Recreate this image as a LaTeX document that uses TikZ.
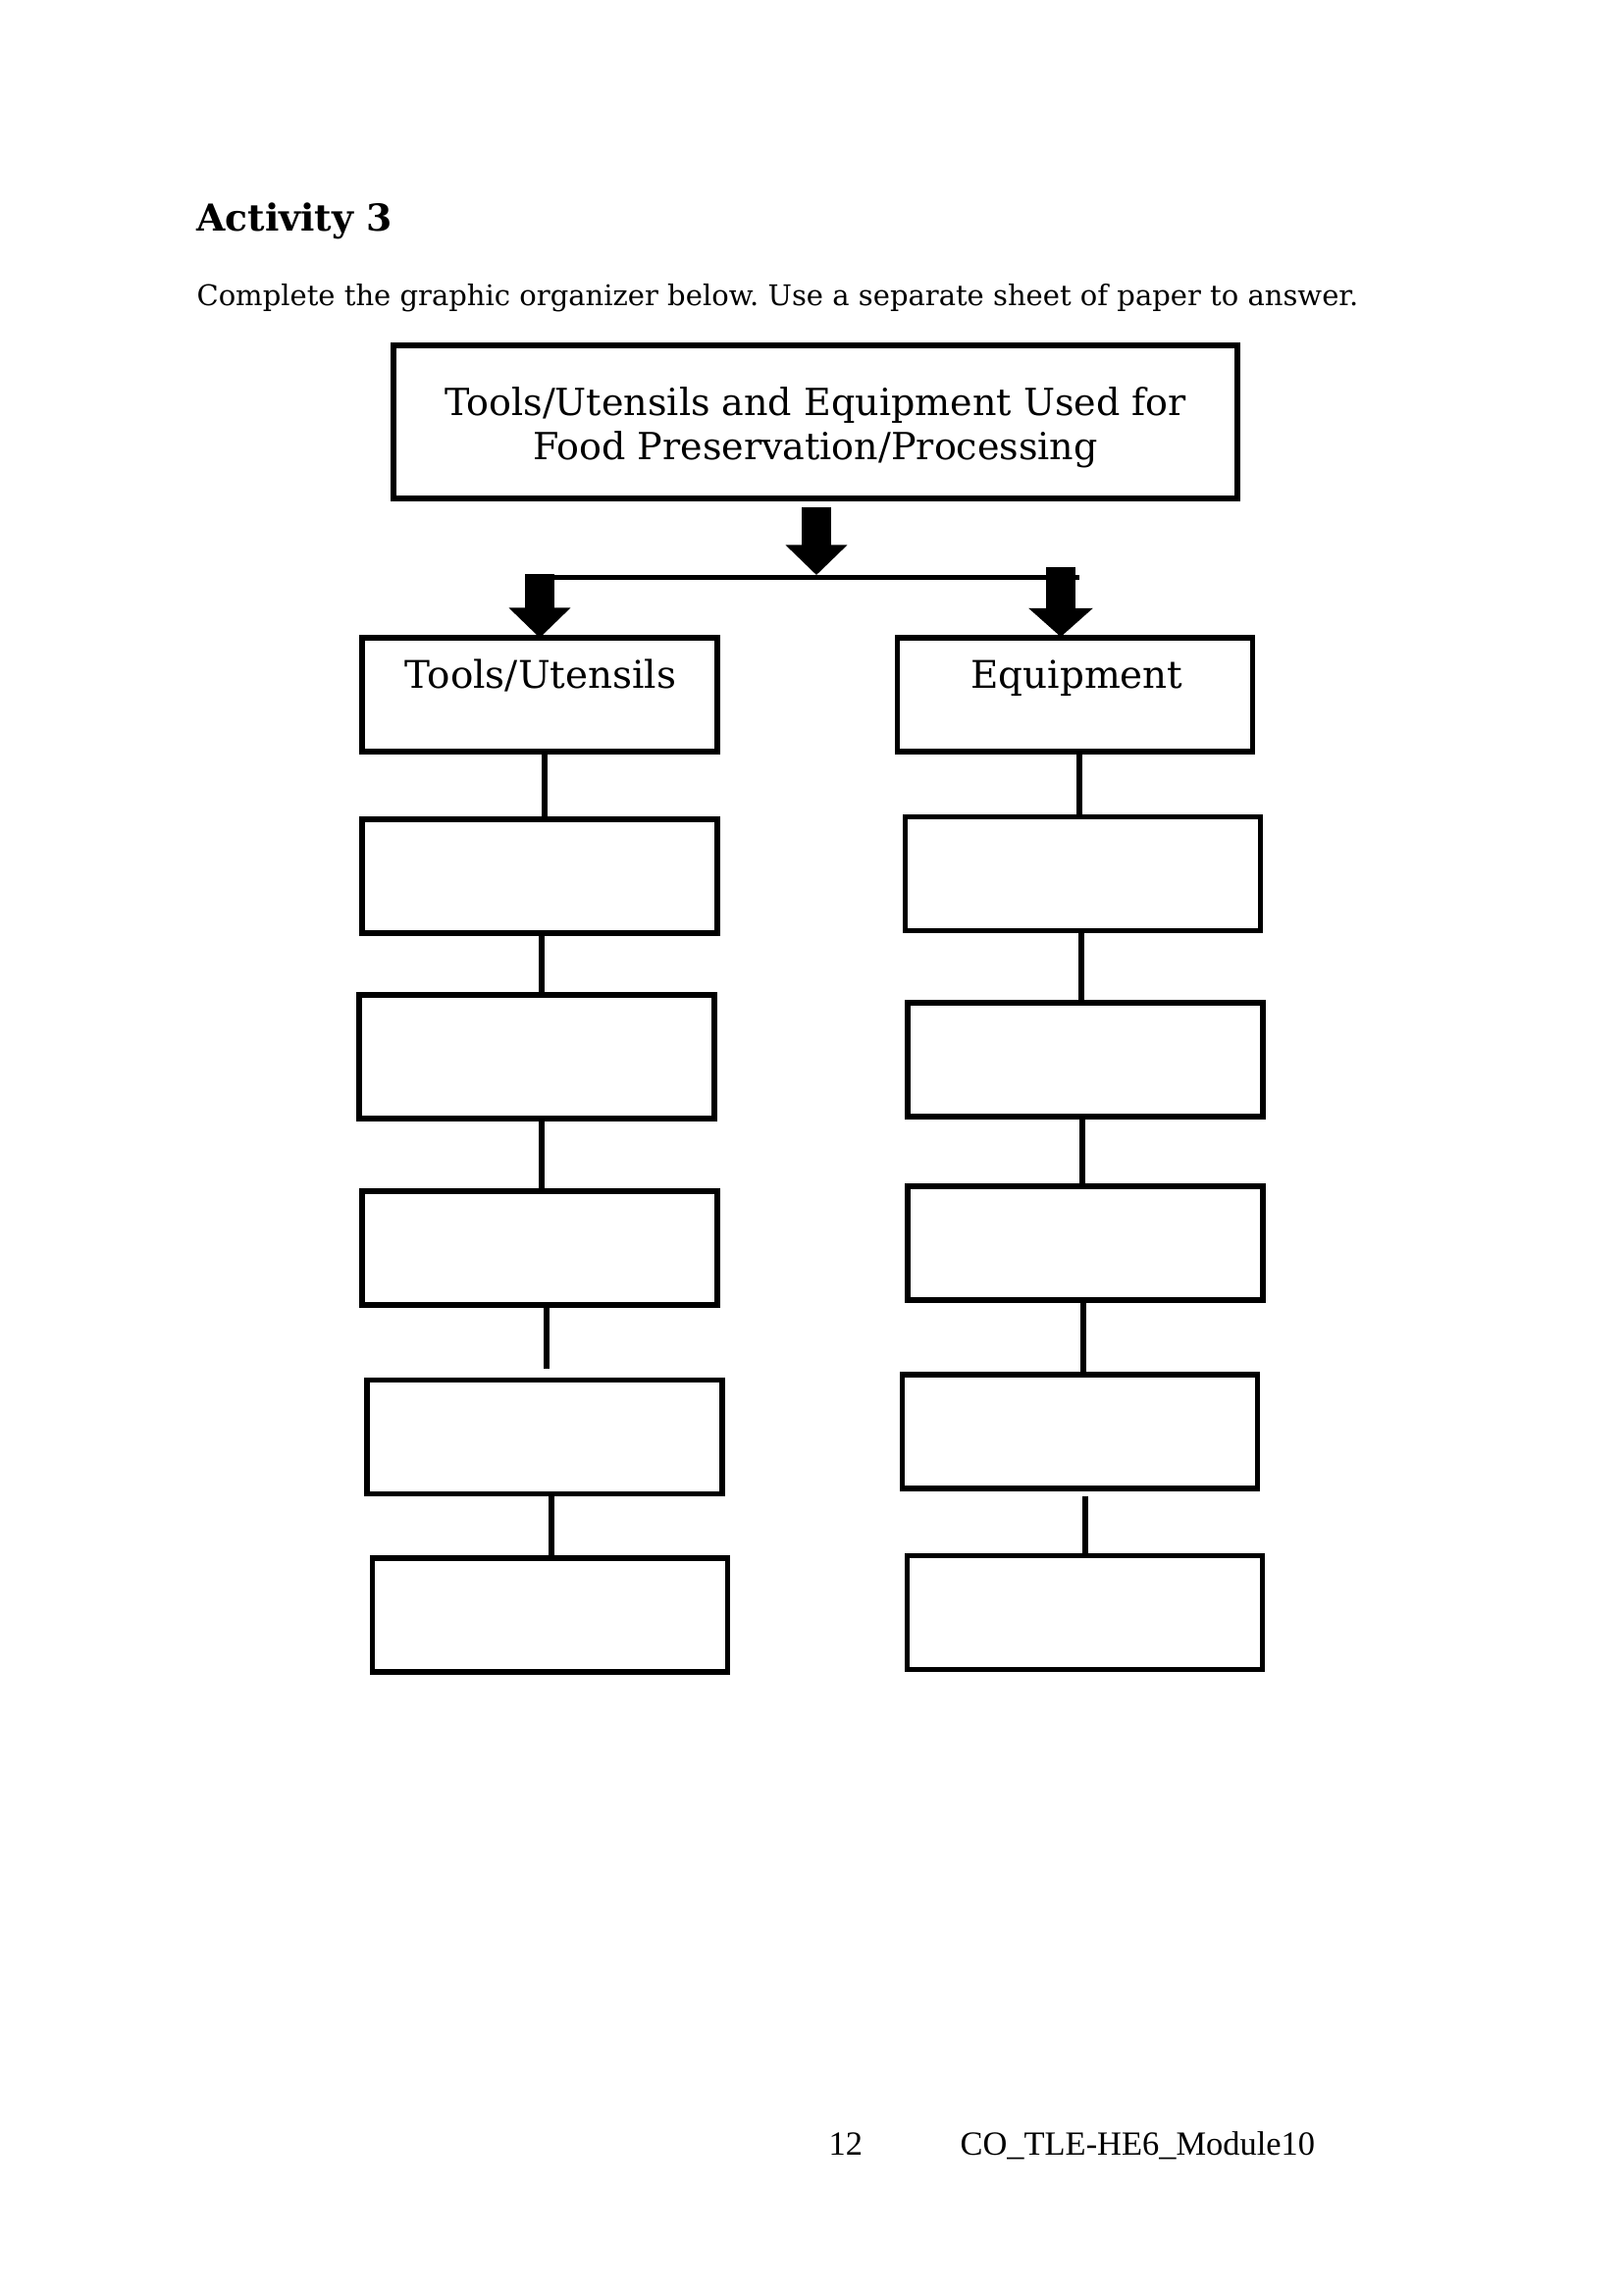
\documentclass[tikz,border=0pt]{standalone}
\usepackage{fontspec}
\setmainfont{DejaVu Serif}
\newfontfamily\footfont{Liberation Serif}
\usetikzlibrary{arrows.meta,calc}
\frenchspacing
\begin{document}
\begin{tikzpicture}[x=0.36pt,y=-0.36pt,
  box/.style={draw,line width=2.1pt,minimum width=130.3pt,minimum height=41.8pt,inner sep=0pt},
  conn/.style={line width=2pt,line cap=butt},
  blockarrow/.style={line width=10.6pt,line cap=butt,-{Triangle[width=22pt,length=11pt]}},
  hdr/.style={anchor=base,inner sep=0pt,font=\fontsize{14}{16}\selectfont}]
\useasboundingbox[fill=white] (0,0) rectangle (1654,2339);

% texts
\node[anchor=base west,inner sep=0pt,font=\bfseries\fontsize{13.6}{16}\selectfont] (act) at (200,235) {Activity 3};
\node[anchor=base west,inner sep=0pt,font=\fontsize{10.45}{12}\selectfont] (ins) at (200,311) {Complete the graphic organizer below. Use a separate sheet of paper to answer.};

% title
\node[box,line width=2.3pt,minimum width=309.8pt,minimum height=56pt] (title) at (831,430) {};
\node[align=center,inner sep=0pt,font=\fontsize{13.7}{16.2}\selectfont] (ttext) at ($(title.center)+(0,6)$)
  {Tools/Utensils and Equipment Used for\\Food Preservation/Processing};

% left column
\node[box] (L1) at (550,708) {};
\node[box] (L2) at (550,893) {};
\node[box,minimum height=45.4pt] (L3) at (547,1077) {};
\node[box] (L4) at (550,1272) {};
\node[box] (L5) at (555,1464.5) {};
\node[box] (L6) at (560.5,1646) {};
% right column
\node[box] (R1) at (1095.5,708) {};
\node[box] (R2) at (1103.5,890.5) {};
\node[box] (R3) at (1106,1080) {};
\node[box] (R4) at (1106,1267) {};
\node[box] (R5) at (1100.5,1459) {};
\node[box] (R6) at (1105.5,1643.5) {};

\node[hdr] (t1) at ($(L1.north)+(1,54)$) {Tools/Utensils};
\node[hdr] (t2) at ($(R1.north)+(2,54)$) {Equipment};

% arrows and bar
\coordinate (hubtop) at ($(title.south)+(1,6)$);
\coordinate (hubtip) at (832,586);
\coordinate (barL) at (535,588);
\coordinate (barR) at (1100,588);
\coordinate (la) at (550,585);
\coordinate (ra) at (1081,578);
\draw[blockarrow] (hubtop) -- (hubtip);
\draw[line width=1.8pt,line cap=butt] (barL) -- (barR);
\draw[blockarrow,line width=10.8pt] (la) -- ($(L1.north)+(0,3)$);
\draw[blockarrow,line width=11pt,-{Triangle[width=23pt,length=10.5pt]}] (ra) -- ($(ra |- R1.north)+(0,2)$);

% connectors left
\coordinate (c1) at ($(L1.south)+(5,0)$);
\draw[conn] (c1) -- (c1 |- L2.north);
\coordinate (c2) at ($(L2.south)+(2,0)$);
\draw[conn] (c2) -- (c2 |- L3.north);
\coordinate (c3) at ($(L3.south)+(5,0)$);
\draw[conn] (c3) -- (c3 |- L4.north);
\coordinate (c4) at ($(L4.south)+(7,0)$);
\coordinate (c4e) at ($(L5.north)+(2,-9)$);
\draw[conn] (c4) -- (c4 |- c4e);
\coordinate (c5) at ($(L5.south)+(7,0)$);
\coordinate (c5e) at ($(L6.north)+(0,4)$);
\draw[conn] (c5) -- (c5 |- c5e);

% connectors right
\coordinate (d1) at ($(R1.south)+(4.5,0)$);
\draw[conn] (d1) -- (d1 |- R2.north);
\coordinate (d2) at ($(R2.south)+(-1.5,0)$);
\draw[conn] (d2) -- (d2 |- R3.north);
\coordinate (d3) at ($(R3.south)+(-3,0)$);
\draw[conn] (d3) -- (d3 |- R4.north);
\coordinate (d4) at ($(R4.south)+(-2,0)$);
\draw[conn] (d4) -- (d4 |- R5.north);
\coordinate (d5) at ($(R5.south)+(5.5,5)$);
\draw[conn] (d5) -- (d5 |- R6.north);

% footer
\node[anchor=base west,inner sep=0pt,font=\footfont\fontsize{12.4}{14}\selectfont] (pg) at (844,2196) {12};
\node[anchor=base west,inner sep=0pt,font=\footfont\fontsize{12.4}{14}\selectfont] (mod) at (978,2196) {CO\_TLE-HE6\_Module10};
\end{tikzpicture}
\end{document}
